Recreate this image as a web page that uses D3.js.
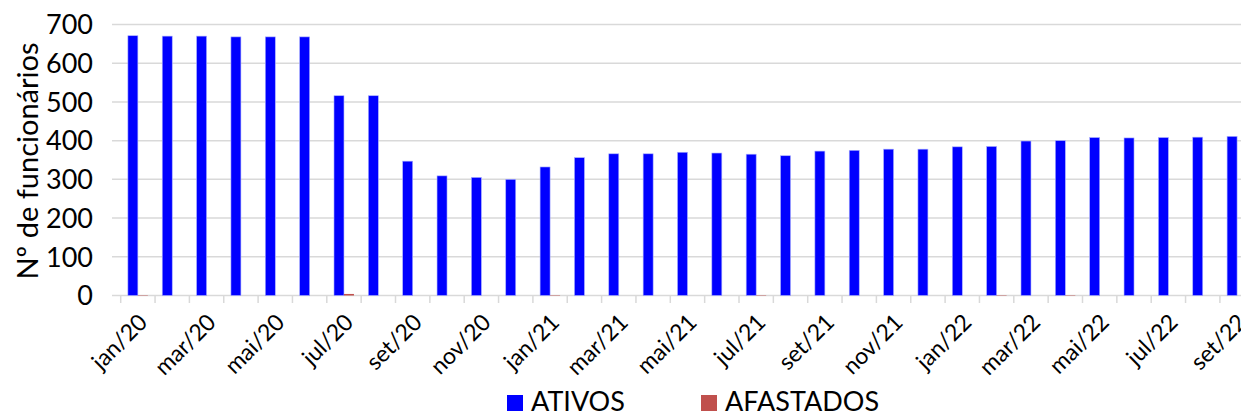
<!DOCTYPE html>
<html>
<head>
<meta charset="utf-8">
<script src="https://cdn.jsdelivr.net/npm/d3@7"></script>
<style>
  body { margin: 0; background: #fff; }
  svg text { font-family: Lato, "Open Sans", sans-serif; fill: #000; }
</style>
</head>
<body>
<svg id="chart" width="1241" height="414"></svg>
<script>
// months jan/20 .. set/22
var months = ["jan/20","fev/20","mar/20","abr/20","mai/20","jun/20","jul/20","ago/20","set/20","out/20","nov/20","dez/20",
              "jan/21","fev/21","mar/21","abr/21","mai/21","jun/21","jul/21","ago/21","set/21","out/21","nov/21","dez/21",
              "jan/22","fev/22","mar/22","abr/22","mai/22","jun/22","jul/22","ago/22","set/22"];
var ativos = [671, 670, 670, 668, 668, 668, 516, 516, 347, 309, 305, 300,
              332, 356, 366, 366, 370, 368, 365, 361, 373, 375, 378, 378,
              384, 385, 399, 400, 408, 407, 408, 409, 411];
var afastados = [1, 0, 0, 0, 0, 0, 4, 0, 0, 0, 0, 0,
                 1, 0, 0, 0, 0, 0, 1, 0, 0, 0, 0, 0,
                 0, 1, 0, 1, 0, 0, 0, 0, 0];
var yTicks = [0, 100, 200, 300, 400, 500, 600, 700];
var seriesNames = ["ATIVOS", "AFASTADOS"];
var colors = ["#0000ff", "#c0504d"];

var svg = d3.select("#chart");

var x = d3.scaleBand()
    .domain(months)
    .range([120.7, 120.7 + 33 * 34.35])
    .paddingInner(0).paddingOuter(0);

var y = d3.scaleLinear()
    .domain([0, 700])
    .range([295.5, 24.5]);

var inner = d3.scaleBand()
    .domain(seriesNames)
    .range([0, x.bandwidth()])
    .paddingInner(0)
    .paddingOuter(0.72);

// gridlines
svg.append("g").selectAll("line")
    .data(yTicks)
  .enter().append("line")
    .attr("x1", 112).attr("x2", 1241)
    .attr("y1", function(d) { return y(d); })
    .attr("y2", function(d) { return y(d); })
    .style("stroke", "#d9d9d9")
    .style("stroke-width", 1.5);

// x tick marks at category boundaries
svg.append("g").selectAll("line")
    .data(months)
  .enter().append("line")
    .attr("x1", function(d) { return x(d); })
    .attr("x2", function(d) { return x(d); })
    .attr("y1", 295.5).attr("y2", 303)
    .style("stroke", "#d9d9d9")
    .style("stroke-width", 1.5);

// y tick labels
svg.append("g").selectAll("text")
    .data(yTicks)
  .enter().append("text")
    .attr("x", 93)
    .attr("y", function(d) { return y(d); })
    .attr("dy", "0.36em")
    .attr("text-anchor", "end")
    .style("font-size", "27px")
    .text(function(d) { return d; });

// y title
svg.append("text")
    .attr("transform", "translate(38,161) rotate(-90)")
    .attr("text-anchor", "middle")
    .style("font-size", "29px")
    .text("Nº de funcionários");

// bars
var groups = svg.append("g").selectAll("g")
    .data(months)
  .enter().append("g")
    .attr("transform", function(d) { return "translate(" + x(d) + ",0)"; });

groups.append("rect")
    .attr("x", inner("ATIVOS"))
    .attr("width", inner.bandwidth())
    .attr("y", function(d, i) { return y(ativos[i]); })
    .attr("height", function(d, i) { return y(0) - y(ativos[i]); })
    .style("fill", colors[0])
    .style("stroke", "#aab0ff")
    .style("stroke-width", 0.6);

groups.append("rect")
    .attr("x", inner("AFASTADOS"))
    .attr("width", inner.bandwidth())
    .attr("y", function(d, i) { return y(afastados[i]); })
    .attr("height", function(d, i) { return y(0) - y(afastados[i]); })
    .style("fill", colors[1]);

// x labels, every other month
svg.append("g").selectAll("text")
    .data(months.filter(function(d, i) { return i % 2 === 0; }))
  .enter().append("text")
    .attr("transform", function(d) {
      return "translate(" + (x(d) + x.bandwidth() / 2 + 5) + ",318) rotate(-45)";
    })
    .attr("text-anchor", "end")
    .attr("dy", "0.35em")
    .style("font-size", "23px")
    .text(function(d) { return d; });

// legend
var legendX = [507, 701];
var legend = svg.append("g").selectAll("g")
    .data(seriesNames)
  .enter().append("g")
    .attr("transform", function(d, i) { return "translate(" + legendX[i] + ",395)"; });

legend.append("rect")
    .attr("width", 16).attr("height", 16)
    .style("fill", function(d, i) { return colors[i]; });

legend.append("text")
    .attr("x", 24).attr("y", 16)
    .style("font-size", "27px")
    .text(function(d) { return d; });
</script>
</body>
</html>
